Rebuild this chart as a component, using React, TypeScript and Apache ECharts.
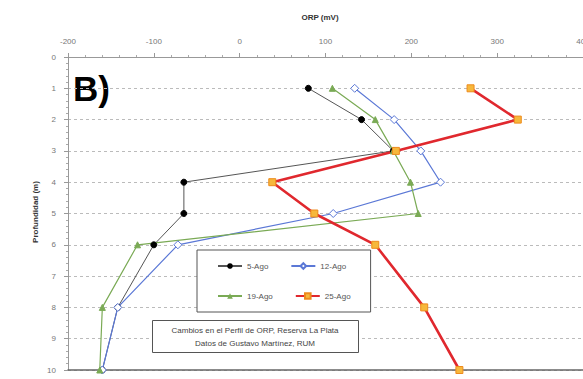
import React, { useEffect, useRef } from "react";
import * as echarts from "echarts";

const depths = [1, 2, 3, 4, 5, 6, 8, 10];
const seriesNames = ["5-Ago", "12-Ago", "19-Ago", "25-Ago"];
const orp5 = [80, 142, 179, -65, -65, -100, -142, -160];
const orp12 = [134, 180, 211, 234, 109, -72, -142, -160];
const orp19 = [108, 158, 179, 199, 208, -119, -160, -163];
const orp25 = [269, 324, 182, 38, 87, 158, 215, 256];
const xTitle = "ORP (mV)";
const yTitle = "Profundidad (m)";
const panelLabel = "B)";
const noteLines = ["Cambios en el Perfil de ORP, Reserva La Plata", "Datos de Gustavo Martínez, RUM"];

const pair = (vals: number[]) => vals.map((v, i) => [v, depths[i]]);

export default function App() {
  const ref = useRef<HTMLDivElement>(null);
  useEffect(() => {
    if (!ref.current) return;
    const chart = echarts.init(ref.current, undefined, { renderer: "svg" });
    const font = "Liberation Sans, Arial, sans-serif";
    chart.setOption({
      animation: false,
      backgroundColor: "#fff",
      textStyle: { fontFamily: font },
      grid: { left: 68, top: 57, right: 0, bottom: 9, containLabel: false, outerBoundsMode: "none" },
      xAxis: [
        {
          type: "value",
          position: "top",
          min: -200,
          max: 400,
          interval: 100,
          axisLine: { show: true, onZero: false, lineStyle: { color: "#999" } },
          axisTick: { show: true, length: 4, lineStyle: { color: "#999" } },
          minorTick: { show: true, splitNumber: 5, length: 2, lineStyle: { color: "#aaa" } },
          axisLabel: { fontSize: 8, color: "#777", margin: 12, fontFamily: font },
          splitLine: { show: false },
        },
        {
          type: "value",
          position: "bottom",
          min: -200,
          max: 400,
          interval: 100,
          axisLine: { show: true, onZero: false, lineStyle: { color: "#666", width: 1.5 } },
          axisTick: { show: false },
          axisLabel: { show: false },
          splitLine: { show: false },
        },
      ],
      yAxis: {
        type: "value",
        inverse: true,
        min: 0,
        max: 10,
        interval: 1,
        axisLine: { show: true, onZero: false, lineStyle: { color: "#999" } },
        axisTick: { show: true, length: 4, lineStyle: { color: "#999" } },
        minorTick: { show: true, splitNumber: 5, length: 2, lineStyle: { color: "#aaa" } },
        axisLabel: { fontSize: 8, color: "#777", margin: 12, fontFamily: font },
        splitLine: { show: true, lineStyle: { color: "#bbb", type: [3, 3] } },
      },
      legend: {
        data: seriesNames,
        left: 197,
        top: 250,
        width: 140,
        orient: "horizontal",
        padding: [12, 20, 12, 20],
        itemGap: 22,
        itemWidth: 24,
        itemHeight: 7,
        borderColor: "#555",
        borderWidth: 1,
        backgroundColor: "#fff",
        textStyle: { fontSize: 8, color: "#555", fontFamily: font },
      },
      series: [
        {
          name: seriesNames[0],
          type: "line",
          data: pair(orp5),
          symbol: "circle",
          symbolSize: 6,
          lineStyle: { color: "#555", width: 1 },
          itemStyle: { color: "#000", borderColor: "#000" },
        },
        {
          name: seriesNames[1],
          type: "line",
          data: pair(orp12),
          symbol: "diamond",
          symbolSize: 8,
          lineStyle: { color: "#5b78d6", width: 1.2 },
          itemStyle: { color: "#fff", borderColor: "#5b78d6", borderWidth: 1 },
        },
        {
          name: seriesNames[2],
          type: "line",
          data: pair(orp19),
          symbol: "triangle",
          symbolSize: 6,
          lineStyle: { color: "#7aaa55", width: 1.2 },
          itemStyle: { color: "#7aaa55", borderColor: "#7aaa55" },
        },
        {
          name: seriesNames[3],
          type: "line",
          data: pair(orp25),
          symbol: "rect",
          symbolSize: 7,
          lineStyle: { color: "#e0282e", width: 2.6 },
          itemStyle: { color: "#f6b83c", borderColor: "#ee8a1c", borderWidth: 1 },
        },
      ],
      graphic: [
        {
          type: "text",
          left: 73,
          top: 71,
          style: { text: panelLabel, font: "bold 35px " + font, fill: "#000" },
        },
        {
          type: "text",
          x: 320,
          y: 17,
          style: { text: xTitle, font: "bold 8px " + font, fill: "#333", align: "center", verticalAlign: "middle" },
        },
        {
          type: "text",
          x: 35,
          y: 212,
          rotation: Math.PI / 2,
          style: { text: yTitle, font: "bold 8px " + font, fill: "#333", align: "center", verticalAlign: "middle" },
        },
        {
          type: "rect",
          shape: { x: 152.5, y: 320.5, width: 206, height: 32 },
          style: { fill: "#fff", stroke: "#555", lineWidth: 1 },
          z: 100,
        },
        {
          type: "text",
          x: 255,
          y: 330,
          z: 101,
          style: { text: noteLines[0], font: "8px " + font, fill: "#444", align: "center", verticalAlign: "middle" },
        },
        {
          type: "text",
          x: 255,
          y: 343,
          z: 101,
          style: { text: noteLines[1], font: "8px " + font, fill: "#444", align: "center", verticalAlign: "middle" },
        },
      ],
    });
    return () => chart.dispose();
  }, []);
  return <div ref={ref} style={{ position: "absolute", left: 0, top: 0, width: 583, height: 379 }} />;
}
